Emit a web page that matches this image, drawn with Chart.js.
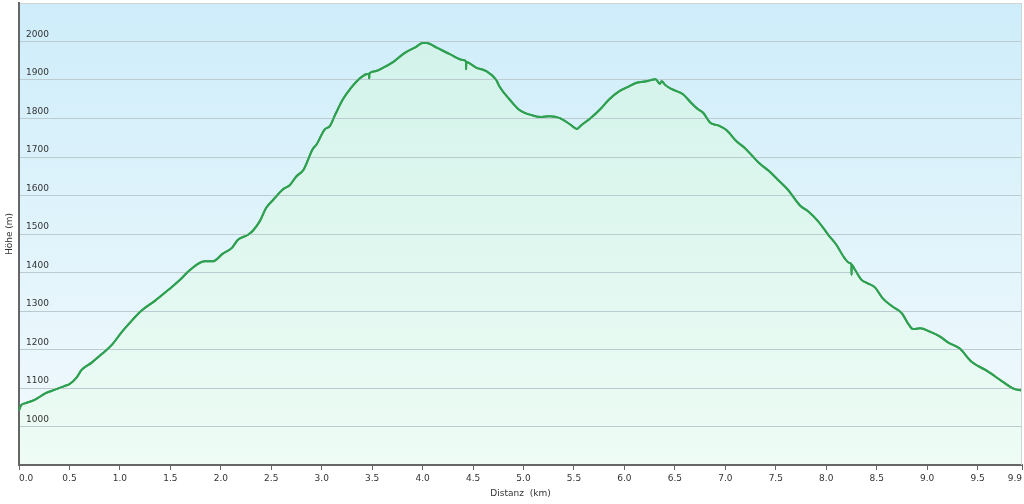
<!DOCTYPE html>
<html>
<head>
<meta charset="utf-8">
<script src="https://cdn.jsdelivr.net/npm/chart.js@4/dist/chart.umd.min.js"></script>
<style>
  html, body { margin: 0; padding: 0; background: #ffffff; }
  #wrap { width: 1024px; height: 504px; }
</style>
</head>
<body>
<div id="wrap"><canvas id="c" width="1024" height="504"></canvas></div>
<script>
// Distance along the route (km)
const distKm = [
  0.00, 0.02, 0.07, 0.16, 0.26, 0.35, 0.45, 0.50, 0.57, 0.62,
  0.72, 0.82, 0.92, 1.02, 1.08, 1.21, 1.35, 1.48, 1.58, 1.68,
  1.76, 1.84, 1.92, 2.02, 2.11, 2.17, 2.27, 2.32, 2.39, 2.45,
  2.52, 2.62, 2.68, 2.75, 2.82, 2.91, 2.95, 3.03, 3.08, 3.13,
  3.21, 3.28, 3.36, 3.44, 3.470, 3.471, 3.472, 3.53, 3.61, 3.71,
  3.82, 3.94, 4.00, 4.04, 4.14, 4.27, 4.40, 4.430, 4.431, 4.432,
  4.53, 4.63, 4.73, 4.76, 4.86, 4.96, 5.09, 5.18, 5.26, 5.36,
  5.46, 5.53, 5.57, 5.66, 5.76, 5.85, 5.95, 6.04, 6.12, 6.22,
  6.31, 6.35, 6.37, 6.40, 6.47, 6.58, 6.66, 6.73, 6.78, 6.85,
  6.93, 7.01, 7.11, 7.19, 7.27, 7.34, 7.43, 7.52, 7.62, 7.74,
  7.82, 7.92, 8.02, 8.10, 8.18, 8.23, 8.250, 8.251, 8.252, 8.28,
  8.35, 8.41, 8.48, 8.56, 8.66, 8.75, 8.81, 8.86, 8.93, 9.03,
  9.12, 9.21, 9.32, 9.44, 9.59, 9.75, 9.85, 9.94
];
// Elevation (m)
const elevM = [
  1042, 1055, 1061, 1070, 1086, 1095, 1105, 1110, 1127, 1147,
  1166, 1188, 1212, 1246, 1264, 1300, 1327, 1355, 1377, 1403,
  1420, 1429, 1429, 1449, 1464, 1485, 1498, 1509, 1535, 1568,
  1589, 1617, 1626, 1650, 1667, 1720, 1733, 1772, 1780, 1808,
  1850, 1876, 1900, 1915, 1916, 1904, 1917, 1923, 1932, 1947,
  1970, 1987, 1996, 1996, 1984, 1967, 1952, 1948, 1928, 1947,
  1932, 1923, 1900, 1884, 1850, 1822, 1808, 1804, 1806, 1801,
  1785, 1773, 1782, 1800, 1824, 1850, 1871, 1883, 1893, 1897,
  1902, 1890, 1897, 1888, 1876, 1863, 1841, 1824, 1815, 1789,
  1782, 1770, 1741, 1724, 1702, 1683, 1664, 1641, 1615, 1574,
  1559, 1533, 1498, 1472, 1438, 1425, 1421, 1394, 1420, 1409,
  1381, 1372, 1362, 1333, 1311, 1294, 1268, 1253, 1255, 1246,
  1235, 1218, 1203, 1168, 1145, 1116, 1099, 1093
];
// X tick positions and labels
const xTickValues = [0, 0.5, 1, 1.5, 2, 2.5, 3, 3.5, 4, 4.5, 5, 5.5, 6, 6.5, 7, 7.5, 8, 8.5, 9, 9.5, 9.94];
const xTickLabels = ['0.0','0.5','1.0','1.5','2.0','2.5','3.0','3.5','4.0','4.5','5.0','5.5','6.0','6.5','7.0','7.5','8.0','8.5','9.0','9.5','9.9'];
// Y tick labels
const yTickValues = [1000, 1100, 1200, 1300, 1400, 1500, 1600, 1700, 1800, 1900, 2000];

const FONT = { family: 'DejaVu Sans', size: 9 };
const TEXT = '#333333';

const bgPlugin = {
  id: 'bgPlugin',
  beforeDraw(chart) {
    const { ctx, chartArea: a } = chart;
    ctx.save();
    ctx.fillStyle = '#ffffff';
    ctx.fillRect(0, 0, chart.width, chart.height);
    const g = ctx.createLinearGradient(0, a.top, 0, a.bottom);
    g.addColorStop(0, 'rgb(206,237,250)');
    g.addColorStop(1, 'rgb(243,250,253)');
    ctx.fillStyle = g;
    ctx.fillRect(a.left, a.top, a.right - a.left, a.bottom - a.top);
    ctx.restore();
  },
  afterDraw(chart) {
    const { ctx, chartArea: a } = chart;
    // redraw the profile line above the grid layer
    const meta = chart.getDatasetMeta(0);
    if (meta && meta.dataset) {
      ctx.save();
      meta.dataset.draw(ctx, a);
      ctx.restore();
    }
    ctx.save();
    ctx.strokeStyle = '#cfd4d6';
    ctx.lineWidth = 1;
    ctx.beginPath();
    ctx.moveTo(a.right - 0.5, a.top);
    ctx.lineTo(a.right - 0.5, a.bottom);
    ctx.stroke();
    ctx.restore();
  }
};

new Chart(document.getElementById('c'), {
  type: 'line',
  data: {
    datasets: [{
      data: distKm.map((d, i) => ({ x: d, y: elevM[i] })),
      borderColor: 'rgb(46,160,80)',
      borderWidth: 2,
      pointRadius: 0,
      cubicInterpolationMode: 'monotone',
      fill: 'start',
      backgroundColor: (ctx) => {
        const a = ctx.chart.chartArea;
        if (!a) return 'rgb(220,245,235)';
        const g = ctx.chart.ctx.createLinearGradient(0, a.top, 0, a.bottom);
        g.addColorStop(0, 'rgb(208,242,233)');
        g.addColorStop(1, 'rgb(238,252,245)');
        return g;
      }
    }]
  },
  options: {
    responsive: false,
    animation: false,
    devicePixelRatio: 1,
    layout: { padding: { top: 3, right: 2, left: 0, bottom: 0 } },
    plugins: { legend: { display: false }, tooltip: { enabled: false } },
    scales: {
      x: {
        type: 'linear',
        min: 0,
        max: 9.94,
        afterBuildTicks: (scale) => { scale.ticks = xTickValues.map(v => ({ value: v })); },
        afterFit: (scale) => { scale.height = 39; scale.paddingLeft = 0; scale.paddingRight = 0; },
        ticks: {
          autoSkip: false,
          maxRotation: 0,
          align: 'inner',
          padding: 3,
          color: TEXT,
          font: FONT,
          callback: (v) => { const i = xTickValues.indexOf(v); return i >= 0 ? xTickLabels[i] : ''; }
        },
        grid: { drawOnChartArea: false, drawTicks: true, tickLength: 5, tickColor: '#666666', tickWidth: 1 },
        border: { display: true, color: '#666666', width: 2, z: 2 },
        title: { display: true, text: 'Distanz  (km)', color: TEXT, font: FONT, padding: { top: 4, bottom: 5 } }
      },
      y: {
        min: 900,
        max: 2100,
        afterBuildTicks: (scale) => { scale.ticks = [900].concat(yTickValues, [2100]).map(v => ({ value: v })); },
        afterFit: (scale) => { scale.width = 19; scale.paddingTop = 0; scale.paddingBottom = 0; },
        ticks: {
          z: 2,
          autoSkip: false,
          mirror: true,
          padding: 7,
          labelOffset: -7,
          color: TEXT,
          font: FONT,
          callback: (v) => yTickValues.includes(v) ? String(v) : ''
        },
        grid: {
          z: 1,
          drawTicks: false,
          lineWidth: 1,
          color: (ctx) => {
            const v = ctx.tick && ctx.tick.value;
            if (v === 900) return 'rgba(0,0,0,0)';
            if (v === 2100) return '#cfd4d6';
            return '#bccbd0';
          }
        },
        border: { display: true, color: '#666666', width: 2, z: 2 },
        title: { display: true, text: 'Höhe (m)', color: TEXT, font: FONT, padding: { top: 4, bottom: 0 } }
      }
    }
  },
  plugins: [bgPlugin]
});
</script>
</body>
</html>
